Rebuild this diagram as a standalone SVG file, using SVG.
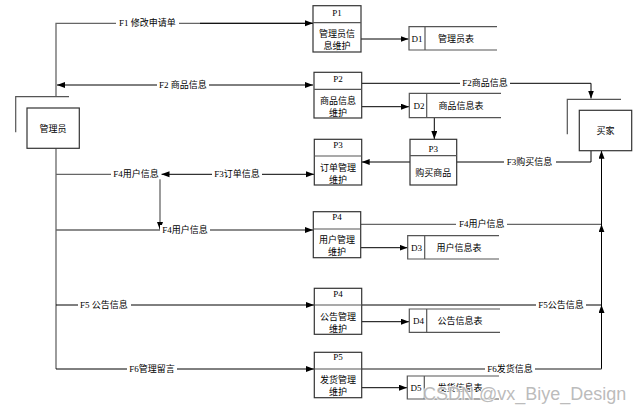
<svg xmlns="http://www.w3.org/2000/svg" width="644" height="408" viewBox="0 0 644 408">
<style>
text{font-family:"Liberation Serif","Noto Sans CJK SC",serif;font-size:9px;fill:#000;text-anchor:middle;dominant-baseline:central}
.box{fill:#fff;stroke:#333;stroke-width:1.2}
.sh{fill:none;stroke:#555;stroke-width:1.2}
.ln{fill:none;stroke:#000;stroke-width:1}
.gl{fill:none;stroke:#666;stroke-width:1.3}
.bg{fill:#fff}
.wm{font-family:"Liberation Sans","DejaVu Sans",sans-serif;font-size:18px;fill:#aaa;fill-opacity:0.8;text-anchor:start;paint-order:stroke;stroke:#fff;stroke-width:2px;stroke-opacity:0.7}
</style>
<defs>
<marker id="ar" markerUnits="userSpaceOnUse" markerWidth="9" markerHeight="7" refX="8" refY="3" orient="auto">
<path d="M0,0 L8,3 L0,6 z" fill="#000"/>
</marker>
<marker id="as" markerUnits="userSpaceOnUse" markerWidth="9" markerHeight="7" refX="0" refY="3" orient="auto">
<path d="M8,0 L0,3 L8,6 z" fill="#000"/>
</marker>
</defs>

<g id="connectors">
<polyline class="gl" points="313,23.3 56,23.3 56,96.7"/>
<line class="gl" x1="56" y1="148.3" x2="56" y2="369"/>
<line class="ln" x1="200" y1="23.3" x2="313" y2="23.3" marker-end="url(#ar)"/>
<line class="ln" x1="57" y1="85" x2="313" y2="85" marker-start="url(#as)" marker-end="url(#ar)"/>
<line class="ln" x1="361" y1="39" x2="408.5" y2="39" marker-end="url(#ar)"/>
<polyline class="ln" points="361.7,83.3 591,83.3 591,98.5" marker-end="url(#ar)"/>
<line class="ln" x1="361.7" y1="106.7" x2="409" y2="106.7" marker-end="url(#ar)"/>
<line class="ln" x1="434.3" y1="117.7" x2="434.3" y2="139" marker-end="url(#ar)"/>
<line class="ln" x1="410" y1="162" x2="361.7" y2="162" marker-end="url(#ar)"/>
<polyline class="ln" points="591,150.7 591,162 410,162" marker-end="url(#ar)"/>
<line class="gl" x1="56" y1="174.3" x2="160" y2="174.3"/>
<line class="ln" x1="161.5" y1="174.3" x2="314" y2="174.3" marker-start="url(#as)" marker-end="url(#ar)"/>
<line class="gl" x1="160" y1="174.3" x2="160" y2="230" marker-end="url(#ar)"/>
<line class="gl" x1="56" y1="230" x2="313" y2="230" marker-end="url(#ar)"/>
<line class="gl" x1="360.7" y1="224.3" x2="601.5" y2="224.3"/>
<line class="ln" x1="601.5" y1="369" x2="601.5" y2="150.7" marker-end="url(#ar)"/>
<line class="ln" x1="601.5" y1="232" x2="601.5" y2="224.3" marker-end="url(#ar)"/>
<line class="ln" x1="601.5" y1="312" x2="601.5" y2="305" marker-end="url(#ar)"/>
<line class="ln" x1="360.7" y1="247.7" x2="407.5" y2="247.7" marker-end="url(#ar)"/>
<line class="ln" x1="56" y1="305" x2="314" y2="305" marker-end="url(#ar)"/>
<line class="ln" x1="314" y1="305" x2="601.5" y2="305"/>
<line class="ln" x1="361.7" y1="321.7" x2="409" y2="321.7" marker-end="url(#ar)"/>
<line class="ln" x1="56" y1="369" x2="314" y2="369" marker-end="url(#ar)"/>
<polyline class="gl" points="350,369 601.5,369"/>
<line class="ln" x1="361.7" y1="387.7" x2="407" y2="387.7" marker-end="url(#ar)"/>

<rect class="bg" x="116" y="18.3" width="63" height="10"/>
<rect class="bg" x="157" y="80" width="52" height="10"/>
<rect class="bg" x="460" y="78.3" width="50" height="10"/>
<rect class="bg" x="504" y="157" width="52" height="10"/>
<rect class="bg" x="111" y="169.3" width="50" height="10"/>
<rect class="bg" x="212" y="169.3" width="50" height="10"/>
<rect class="bg" x="160" y="225" width="50" height="10"/>
<rect class="bg" x="456" y="219.3" width="51" height="10"/>
<rect class="bg" x="78" y="300" width="53" height="10"/>
<rect class="bg" x="536" y="300" width="50" height="10"/>
<rect class="bg" x="127" y="364" width="50" height="10"/>
<rect class="bg" x="485" y="364" width="50" height="10"/>

<text x="147.5" y="23.3">F1 修改申请单</text>
<text x="183" y="85">F2 商品信息</text>
<text x="485" y="83.3">F2商品信息</text>
<text x="529.5" y="162">F3购买信息</text>
<text x="136" y="174.3">F4用户信息</text>
<text x="237" y="174.3">F3订单信息</text>
<text x="185" y="230">F4用户信息</text>
<text x="481.7" y="224.3">F4用户信息</text>
<text x="104" y="305">F5 公告信息</text>
<text x="561" y="305">F5公告信息</text>
<text x="152" y="369">F6管理留言</text>
<text x="510" y="369">F6发货信息</text>
</g>

<g id="admin">
<polyline class="sh" points="15.7,132.3 15.7,96.7 69,96.7"/>
<rect class="box" x="27" y="108" width="52.3" height="40.3"/>
<text x="53" y="128.5">管理员</text>
</g>

<g id="buyer">
<polyline class="sh" points="567.3,134.3 567.3,99.3 621,99.3"/>
<rect class="box" x="579.3" y="110.3" width="52.4" height="40.4"/>
<text x="605.5" y="130.5">买家</text>
</g>

<g id="P1">
<rect class="box" x="313" y="5.7" width="48" height="46.3"/>
<line class="sh" x1="313" y1="22.7" x2="361" y2="22.7"/>
<text x="337" y="12.5">P1</text>
<text x="337" y="34">管理员信</text>
<text x="337" y="46">息维护</text>
</g>

<g id="P2">
<rect class="box" x="314" y="72.3" width="47.7" height="45.7"/>
<line class="sh" x1="314" y1="89.3" x2="361.7" y2="89.3"/>
<text x="338" y="78.5">P2</text>
<text x="338" y="100.5">商品信息</text>
<text x="338" y="112.5">维护</text>
</g>

<g id="P3-order">
<rect class="box" x="314.3" y="139.3" width="47.4" height="45.7"/>
<line class="sh" x1="314.3" y1="156" x2="361.7" y2="156"/>
<text x="338" y="144.5">P3</text>
<text x="338" y="167.5">订单管理</text>
<text x="338" y="179.5">维护</text>
</g>

<g id="P3-buy">
<rect class="box" x="410" y="139.3" width="46.7" height="45.7"/>
<line class="sh" x1="410" y1="155.7" x2="456.7" y2="155.7"/>
<text x="433.3" y="149">P3</text>
<text x="433.3" y="173.3">购买商品</text>
</g>

<g id="P4-user">
<rect class="box" x="313.3" y="211.7" width="47.4" height="46"/>
<line class="sh" x1="313.3" y1="229" x2="360.7" y2="229"/>
<text x="337" y="217">P4</text>
<text x="337" y="240">用户管理</text>
<text x="337" y="252">维护</text>
</g>

<g id="P4-notice">
<rect class="box" x="314.3" y="288.3" width="47.4" height="46"/>
<line class="sh" x1="314.3" y1="305" x2="361.7" y2="305"/>
<text x="338" y="293.5">P4</text>
<text x="338" y="317">公告管理</text>
<text x="338" y="328.5">维护</text>
</g>

<g id="P5">
<rect class="box" x="314.3" y="352.3" width="47.4" height="45.4"/>
<line class="sh" x1="314.3" y1="369" x2="361.7" y2="369"/>
<text x="338" y="357">P5</text>
<text x="338" y="379.5">发货管理</text>
<text x="338" y="391.7">维护</text>
</g>

<g id="D1">
<polyline class="sh" points="497,26.7 409,26.7 409,50 497,50"/>
<line class="sh" x1="425" y1="26.7" x2="425" y2="50"/>
<text x="417" y="38.5">D1</text>
<text x="456" y="38.5">管理员表</text>
</g>

<g id="D2">
<polyline class="sh" points="501,93.3 409.3,93.3 409.3,117.7 501,117.7"/>
<line class="sh" x1="426.7" y1="93.3" x2="426.7" y2="117.7"/>
<text x="419" y="106">D2</text>
<text x="461" y="106">商品信息表</text>
</g>

<g id="D3">
<polyline class="sh" points="499,235.7 407.7,235.7 407.7,259 499,259"/>
<line class="sh" x1="424.7" y1="235.7" x2="424.7" y2="259"/>
<text x="416.5" y="247.7">D3</text>
<text x="459" y="247.7">用户信息表</text>
</g>

<g id="D4">
<polyline class="sh" points="500,309 409.3,309 409.3,332.3 500,332.3"/>
<line class="sh" x1="426.7" y1="309" x2="426.7" y2="332.3"/>
<text x="418.5" y="321">D4</text>
<text x="460" y="321">公告信息表</text>
</g>

<g id="D5">
<polyline class="sh" points="499,376 407.3,376 407.3,399 499,399"/>
<line class="sh" x1="424.3" y1="376" x2="424.3" y2="399"/>
<text x="416" y="387.7">D5</text>
<text x="460" y="387.7">发货信息表</text>
</g>

<text class="wm" x="423" y="394">CSDN @vx_Biye_Design</text>
</svg>
